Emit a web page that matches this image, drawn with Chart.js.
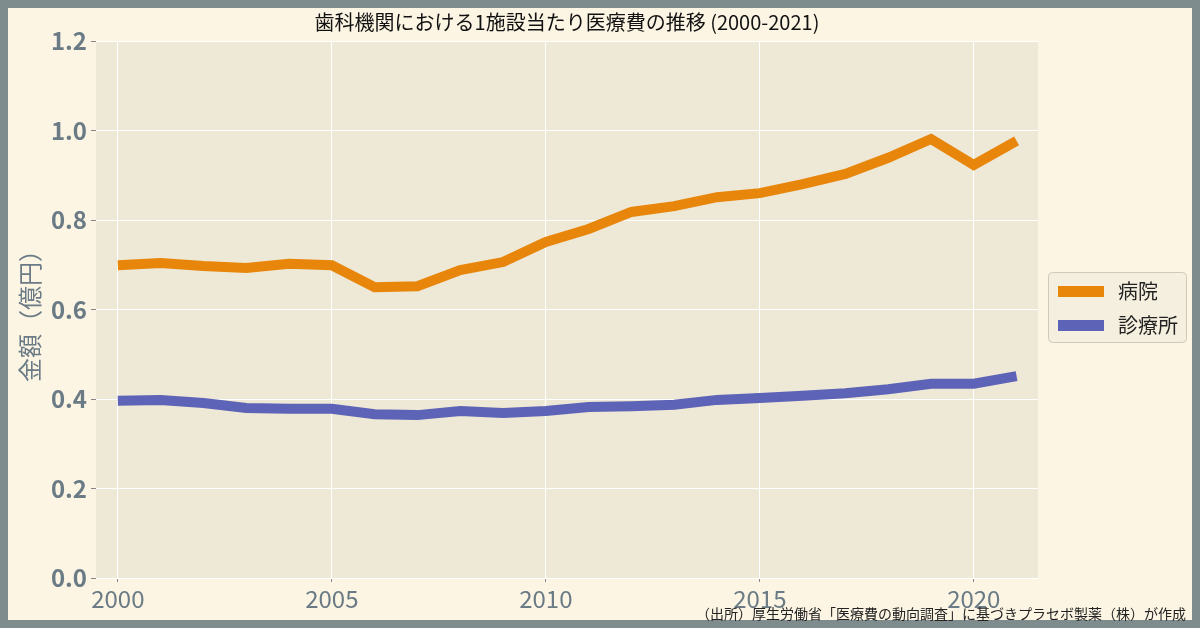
<!DOCTYPE html>
<html><head><meta charset="utf-8">
<script src="https://cdn.jsdelivr.net/npm/chart.js@4/dist/chart.umd.min.js"></script>
<style>html,body{margin:0;padding:0;background:#7f8c8d}#w{width:1200px;height:628px}</style></head>
<body><div id="w"><canvas id="c" width="1200" height="628"></canvas></div>
<script>
const years = [2000,2001,2002,2003,2004,2005,2006,2007,2008,2009,2010,2011,2012,2013,2014,2015,2016,2017,2018,2019,2020,2021];
const hospital = [0.699,0.704,0.697,0.693,0.702,0.699,0.650,0.652,0.688,0.706,0.751,0.780,0.818,0.831,0.851,0.860,0.880,0.903,0.939,0.981,0.923,0.977];
const clinic = [0.396,0.398,0.391,0.380,0.378,0.378,0.366,0.364,0.373,0.369,0.373,0.382,0.384,0.387,0.398,0.402,0.407,0.413,0.422,0.434,0.434,0.451];
const seriesNames = ['病院','診療所'];
const titleText = '歯科機関における1施設当たり医療費の推移 (2000-2021)';
const yTitle = '金額（億円）';
const sourceText = '（出所）厚生労働省「医療費の動向調査」に基づきプラセボ製薬（株）が作成';
const colors = ['#e8860b','#5d63b6'];
const F = '"Noto Sans CJK JP","Noto Sans",sans-serif';
const deco = {
  id:'deco',
  beforeDraw(ch){
    const c=ch.ctx, a=ch.chartArea;
    c.save();
    c.fillStyle='#7f8c8d'; c.fillRect(0,0,1200,628);
    c.fillStyle='#fcf5e4'; c.fillRect(8,8,1184,612);
    c.fillStyle='#eee8d6'; c.fillRect(a.left,a.top,a.right-a.left,a.bottom-a.top);
    c.restore();
  },
  afterDraw(ch){
    const c=ch.ctx;
    c.save();
    c.fillStyle='#111'; c.font='20px '+F; c.textAlign='center'; c.textBaseline='middle';
    c.fillText(titleText,567,22);
    c.fillStyle='#222'; c.font='14px '+F; c.textAlign='right';
    c.fillText(sourceText,1186,614);
    c.translate(30,310); c.rotate(-Math.PI/2);
    c.fillStyle='#6b7b85'; c.font='24px '+F; c.textAlign='center';
    c.fillText(yTitle,0,0);
    c.restore();
    c.save();
    c.fillStyle='#f5efdf'; c.strokeStyle='#cfcabc'; c.lineWidth=1;
    c.beginPath(); c.roundRect(1048.5,272.5,138,70,4); c.fill(); c.stroke();
    c.font='20px '+F; c.textBaseline='middle'; c.fillStyle='#222';
    seriesNames.forEach((n,i)=>{
      const y=291+i*34;
      c.fillStyle=colors[i]; c.fillRect(1058,y-5,46,11);
      c.fillStyle='#222'; c.fillText(n,1118,y);
    });
    c.restore();
  }
};
new Chart(document.getElementById('c'),{
  type:'line',
  data:{labels:years,datasets:[
    {label:seriesNames[0],data:years.map((x,i)=>({x,y:hospital[i]})),borderColor:colors[0],borderWidth:10,pointRadius:0,tension:0},
    {label:seriesNames[1],data:years.map((x,i)=>({x,y:clinic[i]})),borderColor:colors[1],borderWidth:10,pointRadius:0,tension:0}
  ]},
  options:{
    responsive:false,animation:false,
    layout:{padding:{left:8,top:41,right:162,bottom:8}},
    plugins:{legend:{display:false},tooltip:{enabled:false}},
    scales:{
      x:{type:'linear',min:1999.49,max:2021.5,
        afterBuildTicks:s=>{s.ticks=[2000,2005,2010,2015,2020].map(v=>({value:v}));},
        afterFit:s=>{s.height=42;},
        grid:{color:'#ffffff',lineWidth:1,drawTicks:true,tickLength:4,tickColor:'#888'},border:{display:false},
        ticks:{color:'#6b7b85',font:{size:24,family:F},padding:2,maxRotation:0,callback:v=>String(v)}},
      y:{min:0,max:1.2,
        afterFit:s=>{s.width=88;},
        grid:{color:'#ffffff',lineWidth:1,tickLength:5,tickColor:'#888'},border:{display:false},
        ticks:{stepSize:0.2,color:'#6b7b85',font:{size:24,weight:'bold',family:F},padding:4,callback:v=>v.toFixed(1)}}
    }
  },
  plugins:[deco]
});
</script></body></html>
